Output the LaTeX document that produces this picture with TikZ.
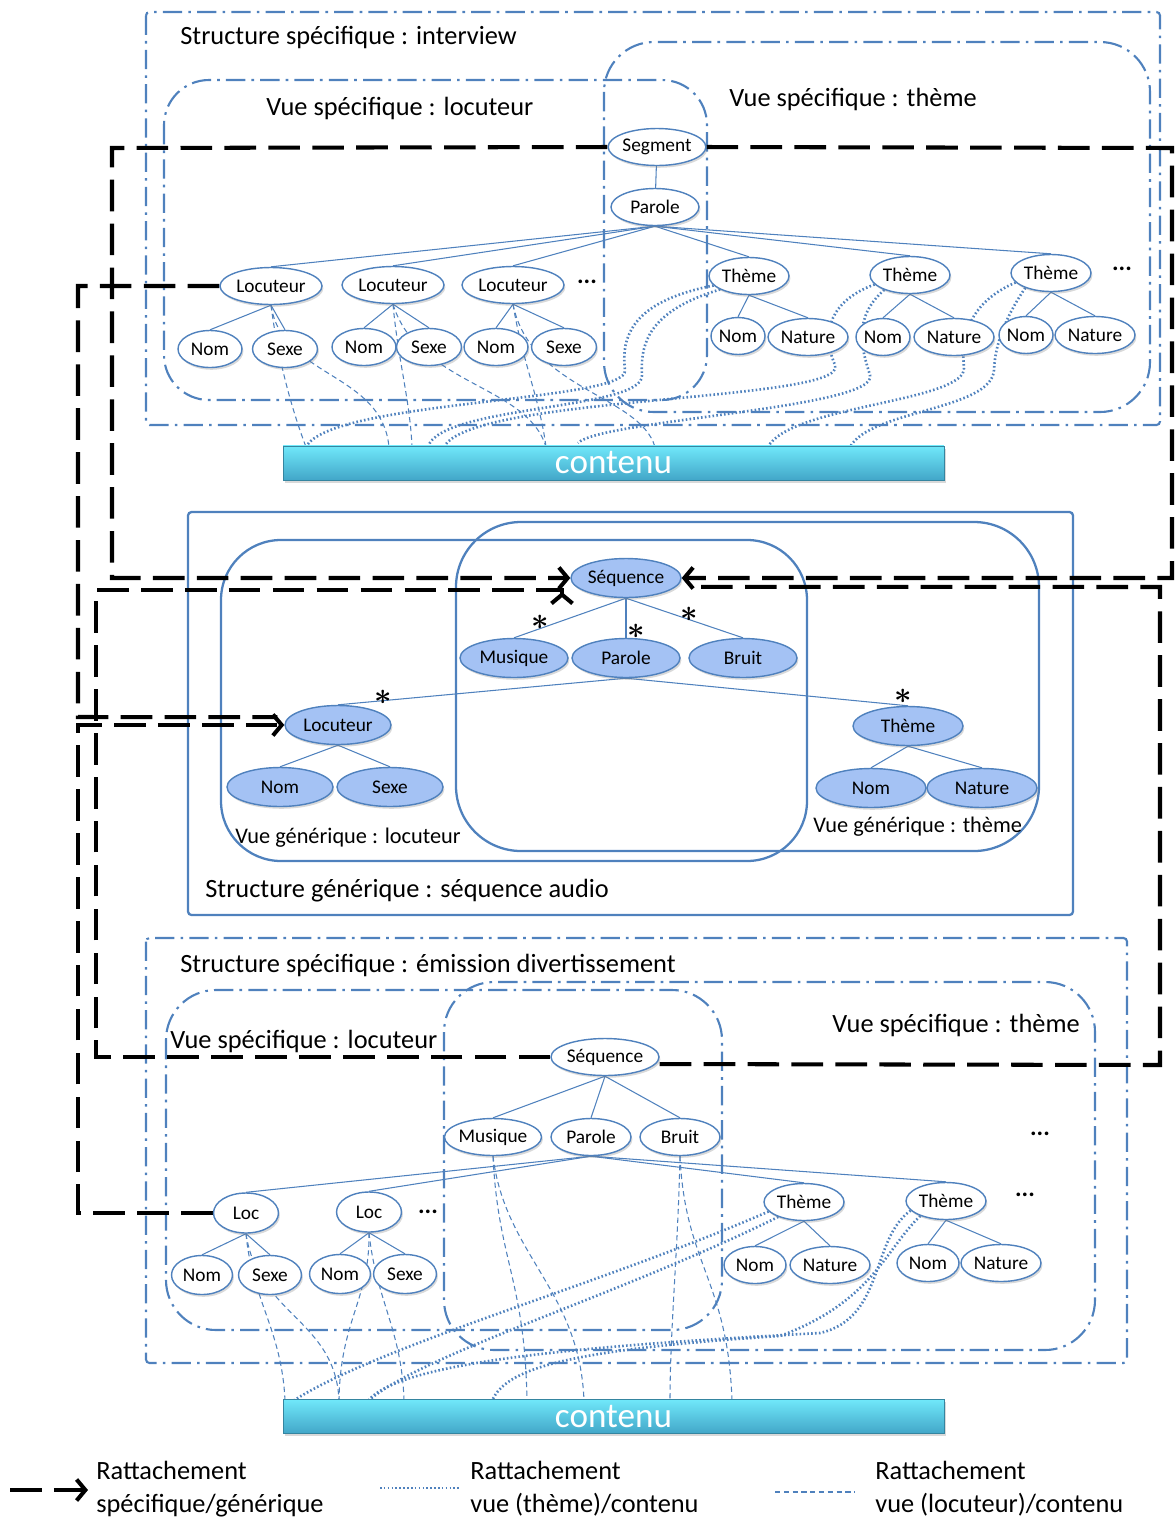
\documentclass[tikz,border=0pt]{standalone}
\usepackage{fontspec}
\setmainfont{Carlito}
\usetikzlibrary{shapes.geometric,arrows.meta,shadows}
\definecolor{vue}{RGB}{79,129,189}
\definecolor{generique}{RGB}{164,194,244}
\definecolor{barre_haut}{RGB}{112,232,250}
\definecolor{barre_bas}{RGB}{66,166,200}
\pgfdeclarelayer{fond}
\pgfsetlayers{fond,main}

\tikzset{
  spec/.style={ellipse, draw=vue, fill=white, line width=0.8pt, inner sep=0pt,
    minimum height=0.74cm, font=\fontsize{11}{13}\selectfont,
    drop shadow={shadow xshift=0.8pt, shadow yshift=-1.3pt, opacity=0.3}},
  gen/.style={spec, fill=generique, minimum height=0.78cm},
  arete/.style={draw=vue, line width=0.6pt},
  cadre/.style={draw=vue, line width=1.2pt, dash pattern=on 11pt off 3.5pt on 1.5pt off 3.5pt},
  cadregen/.style={draw=vue, line width=1.3pt},
  trait/.style={draw=black, line width=2.3pt, dash pattern=on 18pt off 7pt},
  rattache/.style={trait, -{Straight Barb[length=5pt,width=12pt]}},
  vuelien/.style={draw=vue, line width=0.6pt, dash pattern=on 3pt off 2pt},
  themelien/.style={draw=vue, line width=1.5pt, dash pattern=on 0.9pt off 1.3pt},
  titre/.style={anchor=west, inner sep=0pt, font=\fontsize{15}{18.7}\selectfont},
  petittitre/.style={titre, font=\fontsize{12.7}{15}\selectfont},
  barre/.style={rectangle, minimum width=13.22cm, minimum height=0.64cm,
    top color=barre_haut, bottom color=barre_bas, draw=barre_bas!80!black, line width=0.3pt,
    text=white, font=\fontsize{20}{22}\selectfont,
    drop shadow={shadow xshift=1pt, shadow yshift=-1.5pt, opacity=0.3}},
  etc/.style={font=\bfseries\fontsize{14}{14}\selectfont},
  etoile/.style={inner sep=0pt, font=\fontsize{16}{16}\selectfont\boldmath},
}

\begin{document}
\begin{tikzpicture}[x=0.02cm, y=-0.02cm]
\useasboundingbox (0,0) rectangle (1176,1519);

% structure specifique : interview
\node[spec, minimum width=1.92cm] (segI) at (657,147) {Segment};
\node[spec, minimum width=1.76cm] (parI) at (655,207) {Parole};
\node[spec, minimum width=2.04cm] (locI1) at (271,286) {Locuteur};
\node[spec, minimum width=2.04cm] (locI2) at (393,285) {Locuteur};
\node[spec, minimum width=2.04cm] (locI3) at (513,285) {Locuteur};
\node[etc] (etcI1) at (587,282) {...};
\node[spec, minimum width=1.28cm] (nomI1) at (210,349) {Nom};
\node[spec, minimum width=1.3cm] (sexI1) at (285,349) {Sexe};
\node[spec, minimum width=1.28cm] (nomI2) at (364,347) {Nom};
\node[spec, minimum width=1.3cm] (sexI2) at (429,347) {Sexe};
\node[spec, minimum width=1.28cm] (nomI3) at (496,347) {Nom};
\node[spec, minimum width=1.3cm] (sexI3) at (564,347) {Sexe};
\node[spec, minimum width=1.6cm] (theI1) at (749,276) {Thème};
\node[spec, minimum width=1.6cm] (theI2) at (910,275) {Thème};
\node[spec, minimum width=1.6cm] (theI3) at (1051,273) {Thème};
\node[etc] (etcI2) at (1122,269) {...};
\node[spec, minimum width=1.08cm] (nomI4) at (738,336) {Nom};
\node[spec, minimum width=1.6cm] (natI1) at (808,337) {Nature};
\node[spec, minimum width=1.08cm] (nomI5) at (883,337) {Nom};
\node[spec, minimum width=1.6cm] (natI2) at (954,337) {Nature};
\node[spec, minimum width=1.08cm] (nomI6) at (1026,335) {Nom};
\node[spec, minimum width=1.6cm] (natI3) at (1095,335) {Nature};
\node[barre] (contI) at (613.5,463) {contenu};

\node[titre] (tStrI) at (180,38) {Structure spécifique : interview};
\node[titre] (tLocI) at (266,108) {Vue spécifique : locuteur};
\node[titre] (tTheI) at (729,99) {Vue spécifique : thème};

% structure generique : sequence audio
\node[gen, minimum width=2.2cm] (seqG) at (626,578) {Séquence};
\node[gen, minimum width=2.16cm] (musG) at (514,658) {Musique};
\node[gen, minimum width=2.16cm] (parG) at (626,658) {Parole};
\node[gen, minimum width=2.16cm] (bruG) at (743,658) {Bruit};
\node[gen, minimum width=2.12cm] (locG) at (338,725) {Locuteur};
\node[gen, minimum width=2.12cm] (nomG1) at (280,787) {Nom};
\node[gen, minimum width=2.12cm] (sexG) at (390,787) {Sexe};
\node[gen, minimum width=2.2cm] (theG) at (908,726) {Thème};
\node[gen, minimum width=2.2cm] (nomG2) at (871,788) {Nom};
\node[gen, minimum width=2.2cm] (natG) at (982,788) {Nature};
\node[etoile] (et1) at (540,622) {$\ast$};
\node[etoile] (et2) at (636,631) {$\ast$};
\node[etoile] (et3) at (689,614) {$\ast$};
\node[etoile] (et4) at (383,697) {$\ast$};
\node[etoile] (et5) at (903,696) {$\ast$};

\node[petittitre] (tLocG) at (235,838) {Vue générique : locuteur};
\node[petittitre] (tTheG) at (813,827) {Vue générique : thème};
\node[titre] (tStrG) at (205,891) {Structure générique : séquence audio};

% structure specifique : emission divertissement
\node[spec, minimum width=2.12cm] (seqE) at (605,1057) {Séquence};
\node[spec, minimum width=1.92cm] (musE) at (493,1137) {Musique};
\node[spec, minimum width=1.6cm] (parE) at (591,1137) {Parole};
\node[spec, minimum width=1.6cm] (bruE) at (680,1137) {Bruit};
\node[spec, minimum width=1.3cm, minimum height=0.8cm] (locE1) at (246,1213) {Loc};
\node[spec, minimum width=1.3cm, minimum height=0.8cm] (locE2) at (369,1212) {Loc};
\node[etc] (etcE1) at (428,1212) {...};
\node[spec, minimum width=1.22cm, minimum height=0.78cm] (nomE1) at (202,1275) {Nom};
\node[spec, minimum width=1.26cm, minimum height=0.78cm] (sexE1) at (270,1275) {Sexe};
\node[spec, minimum width=1.22cm, minimum height=0.78cm] (nomE2) at (340,1274) {Nom};
\node[spec, minimum width=1.26cm, minimum height=0.78cm] (sexE2) at (405,1274) {Sexe};
\node[spec, minimum width=1.6cm] (theE1) at (804,1202) {Thème};
\node[spec, minimum width=1.6cm] (theE2) at (946,1201) {Thème};
\node[etc] (etcE2) at (1025,1195) {...};
\node[etc] (etcE3) at (1040,1134) {...};
\node[spec, minimum width=1.24cm] (nomE3) at (755,1265) {Nom};
\node[spec, minimum width=1.6cm] (natE1) at (830,1265) {Nature};
\node[spec, minimum width=1.24cm] (nomE4) at (928,1263) {Nom};
\node[spec, minimum width=1.6cm] (natE2) at (1001,1263) {Nature};
\node[barre] (contE) at (613.5,1416.5) {contenu};

\node[titre] (tStrE) at (180,965) {Structure spécifique : émission divertissement};
\node[titre] (tLocE) at (170,1041) {Vue spécifique : locuteur};
\node[titre] (tTheE) at (832,1025) {Vue spécifique : thème};

% legende
\coordinate (lgA1) at (10,1490);
\coordinate (lgA2) at (88,1490);
\coordinate (lgB1) at (380,1488);
\coordinate (lgB2) at (460,1488);
\coordinate (lgC1) at (775,1492);
\coordinate (lgC2) at (855,1492);
\node[titre, align=left] (lgA) at (96,1489) {Rattachement\\spécifique/générique};
\node[titre, align=left] (lgB) at (470,1489) {Rattachement\\vue (thème)/contenu};
\node[titre, align=left] (lgC) at (875,1489) {Rattachement\\vue (locuteur)/contenu};

% points d'arrivee sur le contenu
\coordinate (kh1) at (306,447);
\coordinate (kh2) at (389,447);
\coordinate (kh3) at (412,447);
\coordinate (kh4) at (546,447);
\coordinate (kh5) at (655,447);
\coordinate (kh6) at (428,447);
\coordinate (kh7) at (444,447);
\coordinate (kh8) at (578,443);
\coordinate (kh9) at (768,447);
\coordinate (kh10) at (850,447);
\coordinate (kb1) at (285,1401);
\coordinate (kb2) at (339,1401);
\coordinate (kb3) at (404,1401);
\coordinate (kb4) at (527,1401);
\coordinate (kb5) at (584,1401);
\coordinate (kb6) at (670,1401);
\coordinate (kb7) at (732,1401);
\coordinate (kb8) at (293,1401);
\coordinate (kb9) at (368,1401);
\coordinate (kb10) at (492,1401);

\begin{pgfonlayer}{fond}
% cadres
\draw[cadre, rounded corners=2pt] (146,12) rectangle (1160,425);
\draw[cadre, rounded corners=0.9cm] (164,80) rectangle (707,400);
\draw[cadre, rounded corners=1cm] (604,42) rectangle (1150,412);
\draw[cadregen, rounded corners=2pt] (188,512) rectangle (1073,915);
\draw[cadregen, rounded corners=1.2cm] (221,540) rectangle (807,861);
\draw[cadregen, rounded corners=1.3cm] (456,522) rectangle (1039,851);
\draw[cadre, rounded corners=2pt] (146,938) rectangle (1127,1363);
\draw[cadre, rounded corners=1cm] (166,990) rectangle (722,1330);
\draw[cadre, rounded corners=1cm] (444,982) rectangle (1095,1350);

% aretes des arbres
\draw[arete] (segI) -- (parI);
\foreach \c in {locI1,locI2,locI3,theI1,theI2,theI3}
  \draw[arete] (parI.south) -- (\c.north);
\foreach \p/\c in {locI1/nomI1,locI1/sexI1,locI2/nomI2,locI2/sexI2,locI3/nomI3,locI3/sexI3,
                   theI1/nomI4,theI1/natI1,theI2/nomI5,theI2/natI2,theI3/nomI6,theI3/natI3}
  \draw[arete] (\p.south) -- (\c.north);
\foreach \c in {musG,parG,bruG}
  \draw[arete] (seqG.south) -- (\c.north);
\foreach \p/\c in {parG/locG,parG/theG,locG/nomG1,locG/sexG,theG/nomG2,theG/natG}
  \draw[arete] (\p.south) -- (\c.north);
\foreach \c in {musE,parE,bruE}
  \draw[arete] (seqE.south) -- (\c.north);
\foreach \p/\c in {parE/locE1,parE/locE2,parE/theE1,parE/theE2,locE1/nomE1,locE1/sexE1,
                   locE2/nomE2,locE2/sexE2,theE1/nomE3,theE1/natE1,theE2/nomE4,theE2/natE2}
  \draw[arete] (\p.south) -- (\c.north);

% vue (locuteur) / contenu
\draw[vuelien] (locI1.south) .. controls (278,360) and (292,410) .. (kh1);
\draw[vuelien] (locI1.south) .. controls (282,378) and (382,372) .. (kh2);
\draw[vuelien] (locI2.south) .. controls (398,360) and (410,400) .. (kh3);
\draw[vuelien] (locI2.south) .. controls (418,385) and (528,385) .. (kh4);
\draw[vuelien] (locI3.south) .. controls (522,360) and (540,400) .. (kh4);
\draw[vuelien] (locI3.south) .. controls (530,390) and (640,395) .. (kh5);
\draw[vuelien] (locE1.south) .. controls (252,1300) and (282,1330) .. (kb1);
\draw[vuelien] (locE1.south) .. controls (258,1315) and (336,1320) .. (kb2);
\draw[vuelien] (locE2.south) .. controls (370,1300) and (340,1320) .. (kb2);
\draw[vuelien] (locE2.south) .. controls (376,1300) and (402,1330) .. (kb3);
\draw[vuelien] (musE.south) .. controls (498,1260) and (525,1280) .. (kb4);
\draw[vuelien] (musE.south) .. controls (505,1255) and (580,1290) .. (kb5);
\draw[vuelien] (bruE.south) .. controls (678,1250) and (670,1330) .. (kb6);
\draw[vuelien] (bruE.south) .. controls (685,1265) and (728,1280) .. (kb7);

% vue (theme) / contenu
\draw[themelien] (theI1.195) .. controls (640,300) and (620,330) .. (625,370)
  .. controls (630,402) and (330,400) .. (kh1);
\draw[themelien] (theI1.205) .. controls (652,310) and (640,340) .. (642,375)
  .. controls (645,410) and (440,405) .. (kh6);
\draw[themelien] (theI2.195) .. controls (832,300) and (820,330) .. (835,365)
  .. controls (850,402) and (470,395) .. (kh7);
\draw[themelien] (theI2.210) .. controls (852,318) and (862,350) .. (870,375)
  .. controls (880,408) and (600,420) .. (kh8);
\draw[themelien] (theI3.195) .. controls (975,300) and (960,330) .. (964,367)
  .. controls (968,402) and (790,405) .. (kh9);
\draw[themelien] (theI3.210) .. controls (1005,318) and (995,345) .. (994,370)
  .. controls (992,410) and (870,410) .. (kh10);
\draw[themelien] (theE1.195) .. controls (600,1285) and (380,1345) .. (kb8);
\draw[themelien] (theE1.210) .. controls (620,1295) and (420,1355) .. (kb9);
\draw[themelien] (theE2.195) .. controls (870,1240) and (885,1318) .. (820,1333)
  .. controls (600,1345) and (400,1360) .. (kb9);
\draw[themelien] (theE2.210) .. controls (885,1250) and (872,1302) .. (780,1336)
  .. controls (560,1350) and (505,1370) .. (kb10);

% rattachement specifique / generique
\draw[rattache] (segI.west) -- (112,148) -- (112,578) -- (seqG.west);
\draw[rattache] (segI.east) -- (1172,148) -- (1172,578) -- (seqG.east);
\draw[trait] (locI1.west) -- (78,286) -- (78,717) -- ([xshift=-4pt,yshift=4.5pt]locG.west);
\draw[rattache] (locE1.west) -- (78,1213) -- (78,725) -- (locG.west);
\draw[rattache] (seqE.west) -- (96,1057) -- (96,590) -- (562,590) -- (562,602) -- (562,592);
\draw[trait] ([yshift=-4pt]seqE.east) -- (1160,1065) -- (1160,587) -- ([xshift=6pt,yshift=-5pt]seqG.east);

% legende
\draw[rattache] (lgA1) -- (lgA2);
\draw[themelien] (lgB1) -- (lgB2);
\draw[vuelien] (lgC1) -- (lgC2);
\end{pgfonlayer}
\end{tikzpicture}
\end{document}
